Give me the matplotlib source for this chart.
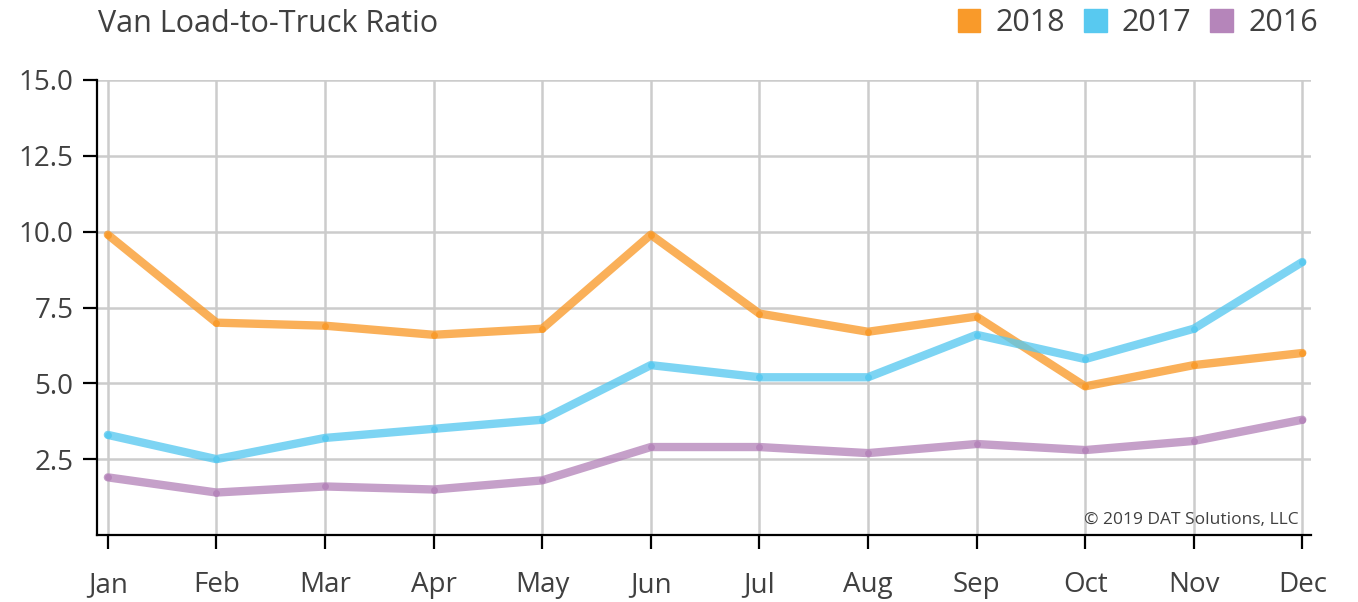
import numpy as np
import matplotlib.pyplot as plt
from matplotlib.patches import Patch

months = ['Jan', 'Feb', 'Mar', 'Apr', 'May', 'Jun', 'Jul', 'Aug', 'Sep', 'Oct', 'Nov', 'Dec']
ratio_2018 = [9.9, 7.0, 6.9, 6.6, 6.8, 9.9, 7.3, 6.7, 7.2, 4.9, 5.6, 6.0]
ratio_2017 = [3.3, 2.5, 3.2, 3.5, 3.8, 5.6, 5.2, 5.2, 6.6, 5.8, 6.8, 9.0]
ratio_2016 = [1.9, 1.4, 1.6, 1.5, 1.8, 2.9, 2.9, 2.7, 3.0, 2.8, 3.1, 3.8]
yticks = [2.5, 5.0, 7.5, 10.0, 12.5, 15.0]

series = [('2018', ratio_2018, '#f99a2a'),
          ('2017', ratio_2017, '#58c9f0'),
          ('2016', ratio_2016, '#b585ba')]

plt.rcParams['font.family'] = ['Open Sans', 'DejaVu Sans']
txt = '#404040'

fig = plt.figure(figsize=(13.58, 6.02), dpi=100)
ax = fig.add_axes([97 / 1358, 1 - 535 / 602, (1311 - 97) / 1358, (535 - 80) / 602])

x = np.arange(len(months))
for name, vals, col in series:
    ax.plot(x, vals, color=col, lw=6, alpha=0.78, solid_capstyle='round', zorder=3)
    ax.plot(x, vals, 'o', color=col, ms=5, alpha=0.9, mec='none', zorder=4)

ax.set_xlim(-0.1, 11.08)
ax.set_ylim(0, 15)
ax.set_xticks(x)
ax.set_xticklabels(months)
ax.set_yticks(yticks)
ax.set_yticklabels([f'{v:.1f}' for v in yticks])
ax.grid(True, color='#cccccc', lw=1.8, zorder=0)
ax.set_axisbelow(True)
for s in ['top', 'right']:
    ax.spines[s].set_visible(False)
for s in ['left', 'bottom']:
    ax.spines[s].set_linewidth(1.6)
    ax.spines[s].set_color('black')
ax.tick_params(axis='both', length=10, width=1.6, colors='black',
               labelsize=20, labelcolor=txt)
ax.tick_params(axis='x', pad=16)
ax.tick_params(axis='y', pad=7)

fig.text(98 / 1358, 1 - 24 / 602, 'Van Load-to-Truck Ratio', fontsize=22,
         color=txt, va='center', ha='left')

handles = [Patch(color=c, label=n) for n, _, c in series]
leg = fig.legend(handles=handles, loc='center right', ncol=3,
                 bbox_to_anchor=(1330 / 1358, 1 - 23 / 602), frameon=False,
                 fontsize=22, handlelength=0.75, handleheight=0.75,
                 handletextpad=0.5, columnspacing=0.6, borderaxespad=0)
for t in leg.get_texts():
    t.set_color(txt)

ax.text(0.99, 0.015, '\u00a9 2019 DAT Solutions, LLC', transform=ax.transAxes,
        ha='right', va='bottom', fontsize=12.5, color=txt)

fig.savefig('out.png', dpi=100)
